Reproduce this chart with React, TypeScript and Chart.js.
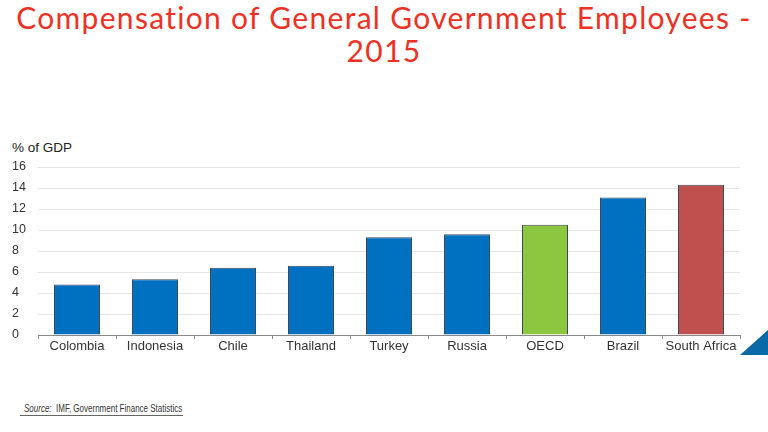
import { useEffect, useRef } from "react";
import { Chart, registerables } from "chart.js";

Chart.register(...registerables);

const countries = [
  "Colombia",
  "Indonesia",
  "Chile",
  "Thailand",
  "Turkey",
  "Russia",
  "OECD",
  "Brazil",
  "South Africa",
];
const compensation = [4.8, 5.3, 6.4, 6.6, 9.3, 9.6, 10.5, 13.1, 14.3];
const barColors = [
  "#0070C0",
  "#0070C0",
  "#0070C0",
  "#0070C0",
  "#0070C0",
  "#0070C0",
  "#8DC63F",
  "#0070C0",
  "#C0504D",
];
const yTicks = [0, 2, 4, 6, 8, 10, 12, 14, 16];

const App = () => {
  const chartRef = useRef<Chart | null>(null);
  const chartCanvas = useRef<HTMLCanvasElement | null>(null);

  useEffect(() => {
    document.body.style.margin = "0";
    if (chartRef.current) {
      chartRef.current.destroy();
    }
    const context = chartCanvas.current?.getContext("2d");
    if (context) {
      chartRef.current = new Chart(context, {
        type: "bar",
        data: {
          labels: countries,
          datasets: [
            {
              data: compensation,
              backgroundColor: barColors,
              borderColor: "#3a4a5a",
              borderWidth: 1,
              barPercentage: 0.59,
              categoryPercentage: 1,
            },
          ],
        },
        options: {
          animation: false,
          responsive: false,
          maintainAspectRatio: false,
          layout: { padding: { left: 12, right: 28, top: 17, bottom: 0 } },
          plugins: {
            legend: { display: false },
            tooltip: { enabled: false },
          },
          scales: {
            x: {
              offset: true,
              grid: {
                display: true,
                drawOnChartArea: false,
                drawTicks: true,
                tickLength: 4,
                color: "#888",
              },
              border: { display: true, color: "#888" },
              ticks: {
                color: "#333",
                padding: 0,
                font: { family: "Liberation Sans", size: 13 },
              },
              afterFit: (scale) => {
                scale.height = 25;
              },
            },
            y: {
              min: 0,
              max: 16,
              afterBuildTicks: (scale) => {
                scale.ticks = yTicks.map((v) => ({ value: v }));
              },
              grid: { color: "#e6e6e6", drawTicks: false },
              border: { display: false },
              ticks: {
                crossAlign: "far",
                color: "#333",
                font: { family: "Liberation Sans", size: 12.5 },
              },
              afterFit: (scale) => {
                scale.width = 26;
              },
            },
          },
        },
      });
    }
    return () => {
      if (chartRef.current) {
        chartRef.current.destroy();
        chartRef.current = null;
      }
    };
  }, []);

  return (
    <div
      style={{
        position: "relative",
        width: 768,
        height: 432,
        background: "#fff",
        overflow: "hidden",
      }}
    >
      <div
        style={{
          position: "absolute",
          top: 1,
          left: 0,
          width: 768,
          textAlign: "center",
          color: "#EE3124",
          fontFamily: "Lato, 'Open Sans', sans-serif",
          fontSize: 30,
          letterSpacing: "1.3px",
          lineHeight: "33px",
          whiteSpace: "nowrap",
        }}
      >
        Compensation of General Government Employees -<br />
        2015
      </div>
      <div
        style={{
          position: "absolute",
          top: 140,
          left: 12,
          fontFamily: "'Liberation Sans', Arial, sans-serif",
          fontSize: 13.5,
          color: "#222",
        }}
      >
        % of GDP
      </div>
      <canvas
        ref={chartCanvas}
        width={768}
        height={210}
        style={{ position: "absolute", top: 150, left: 0, width: 768, height: 210 }}
      ></canvas>
      <div
        style={{
          position: "absolute",
          left: 740,
          top: 330,
          width: 0,
          height: 0,
          borderLeft: "28px solid transparent",
          borderBottom: "25px solid #0A6AA8",
        }}
      ></div>
      <div
        style={{
          position: "absolute",
          top: 415,
          left: 20,
          width: 163,
          borderTop: "1px solid #666",
        }}
      ></div>
      <div
        style={{
          position: "absolute",
          top: 403,
          left: 24,
          fontFamily: "'Liberation Sans', Arial, sans-serif",
          fontSize: 10,
          color: "#333",
          whiteSpace: "nowrap",
          transform: "scaleX(0.8)",
          transformOrigin: "left",
        }}
      >
        <span style={{ fontStyle: "italic" }}>Source:</span>
        &nbsp;&nbsp;IMF, Government Finance Statistics
      </div>
    </div>
  );
};

export default App;
